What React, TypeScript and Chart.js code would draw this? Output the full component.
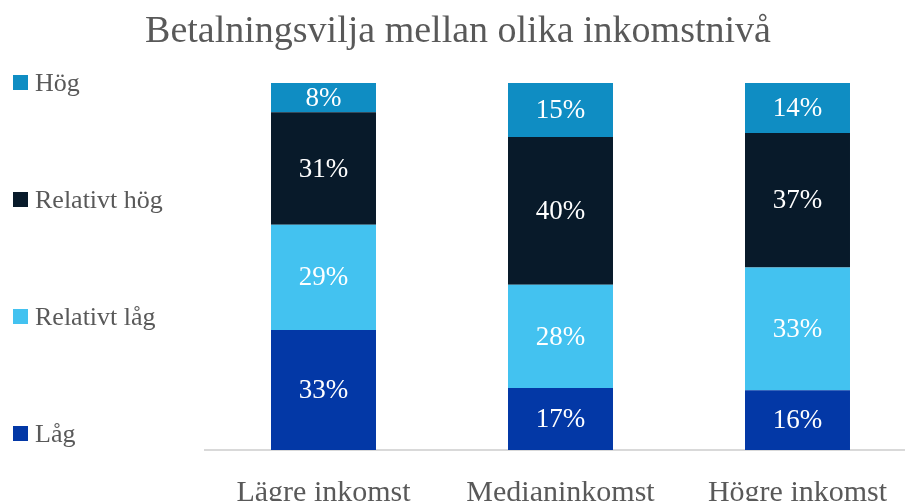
import React, { useEffect, useRef } from "react";
import { Chart, registerables } from "chart.js";

Chart.register(...registerables);

const categories = ["Lägre inkomst", "Medianinkomst", "Högre inkomst"];
const seriesNames = ["Låg", "Relativt låg", "Relativt hög", "Hög"];
const lag = [32.7, 16.9, 16.3];
const relativtLag = [28.7, 28.1, 33.4];
const relativtHog = [30.6, 40.3, 36.7];
const hog = [8.0, 14.7, 13.6];
const seriesColors = ["#0338A6", "#43C2F0", "#081A2A", "#0F8DC3"];
const titleText = "Betalningsvilja mellan olika inkomstnivå";

const FONT = "'Liberation Serif', serif";
const TEXT_GREY = "#595959";

const labelsPlugin = {
  id: "customLabels",
  afterDatasetsDraw(chart: any) {
    const ctx = chart.ctx;
    ctx.save();
    ctx.fillStyle = "#ffffff";
    ctx.font = `27px ${FONT}`;
    ctx.textAlign = "center";
    ctx.textBaseline = "middle";
    chart.data.datasets.forEach((ds: any, di: number) => {
      const meta = chart.getDatasetMeta(di);
      meta.data.forEach((bar: any, i: number) => {
        const v = ds.data[i];
        const { x, y, base } = bar.getProps(["x", "y", "base"], true);
        ctx.fillText(`${Math.round(v)}%`, x, (y + base) / 2 + 1);
      });
    });
    ctx.restore();
  },
  afterDraw(chart: any) {
    const ctx = chart.ctx;
    const area = chart.chartArea;
    const n = chart.data.datasets.length;
    const step = (area.bottom - area.top - 16) / (n - 1);
    const fs = 26;
    ctx.save();
    ctx.font = `${fs}px ${FONT}`;
    ctx.textAlign = "left";
    ctx.textBaseline = "alphabetic";
    for (let k = 0; k < n; k++) {
      const di = n - 1 - k;
      const ds = chart.data.datasets[di];
      const cy = area.top - 0.5 + k * step;
      ctx.fillStyle = ds.backgroundColor;
      ctx.fillRect(13, Math.round(cy - 7.5), 15, 15);
      ctx.fillStyle = TEXT_GREY;
      ctx.fillText(ds.label, 35, cy + fs * 0.331);
    }
    ctx.restore();
  },
};

export default function App() {
  const ref = useRef<HTMLCanvasElement | null>(null);
  useEffect(() => {
    document.body.style.margin = "0";
    document.body.style.overflow = "hidden";
    const seriesData = [lag, relativtLag, relativtHog, hog];
    const chart = new Chart(ref.current as HTMLCanvasElement, {
      type: "bar",
      data: {
        labels: categories,
        datasets: seriesNames.map((name, i) => ({
          label: name,
          data: seriesData[i],
          backgroundColor: seriesColors[i],
          borderWidth: 0,
          categoryPercentage: 1,
          barPercentage: 0.443,
        })),
      },
      options: {
        responsive: false,
        animation: false,
        devicePixelRatio: 1,
        layout: { padding: { left: 0, right: 4, top: 0, bottom: 0 } },
        plugins: {
          legend: { display: false },
          tooltip: { enabled: false },
          title: {
            display: true,
            text: titleText,
            color: TEXT_GREY,
            font: { family: FONT, size: 38, weight: "normal" },
            padding: { top: 9, bottom: 28.4 },
          },
        },
        scales: {
          x: {
            stacked: true,
            grid: { display: false },
            border: { display: true, color: "#d9d9d9", width: 2 },
            ticks: {
              color: TEXT_GREY,
              font: { family: FONT, size: 30 },
              padding: 17,
              maxRotation: 0,
              autoSkip: false,
            },
            afterFit: (scale: any) => {
              scale.height = 51;
            },
          },
          y: {
            stacked: true,
            min: 0,
            max: 100,
            display: true,
            grid: { display: false },
            border: { display: false },
            ticks: { display: false },
            afterFit: (scale: any) => {
              scale.width = 205;
            },
          },
        },
      },
      plugins: [labelsPlugin],
    });
    return () => chart.destroy();
  }, []);
  return (
    <div style={{ position: "absolute", left: 0, top: 0, width: 920, height: 501 }}>
      <canvas ref={ref} width={920} height={501} style={{ display: "block" }} />
    </div>
  );
}
